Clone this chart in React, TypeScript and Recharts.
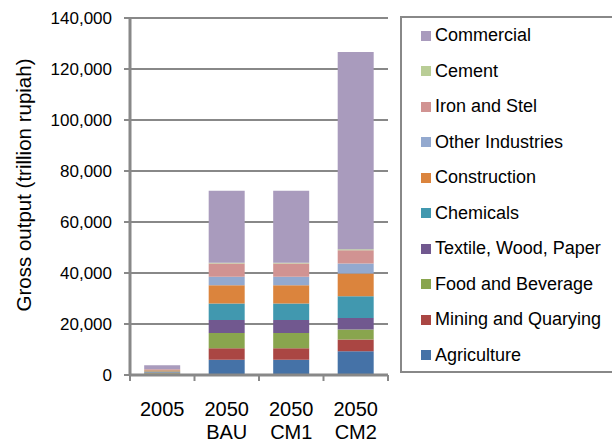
import { BarChart, Bar, XAxis, YAxis, CartesianGrid, Legend, Label } from "recharts";

const categories = ["2005", "2050 BAU", "2050 CM1", "2050 CM2"];
const categoryTop = ["2005", "2050", "2050", "2050"];
const categoryBottom = ["", "BAU", "CM1", "CM2"];

const agriculture = [350, 6000, 6000, 9300];
const mining = [200, 4500, 4500, 4600];
const food = [300, 6000, 6000, 3900];
const textile = [250, 5100, 5100, 4600];
const chemicals = [300, 6400, 6400, 8500];
const construction = [450, 7200, 7200, 8900];
const otherIndustries = [150, 3300, 3300, 3900];
const ironSteel = [250, 5200, 5200, 5200];
const cement = [30, 300, 300, 400];
const commercial = [1500, 28300, 28300, 77400];

const yTicks = [0, 20000, 40000, 60000, 80000, 100000, 120000, 140000];

const series = [
  { key: "agriculture", name: "Agriculture", color: "#4572A7", values: agriculture },
  { key: "mining", name: "Mining and Quarying", color: "#AA4643", values: mining },
  { key: "food", name: "Food and Beverage", color: "#89A54E", values: food },
  { key: "textile", name: "Textile, Wood, Paper", color: "#71588F", values: textile },
  { key: "chemicals", name: "Chemicals", color: "#4198AF", values: chemicals },
  { key: "construction", name: "Construction", color: "#DB843D", values: construction },
  { key: "other", name: "Other Industries", color: "#93A9CF", values: otherIndustries },
  { key: "iron", name: "Iron and Stel", color: "#D19392", values: ironSteel },
  { key: "cement", name: "Cement", color: "#B9CD96", values: cement },
  { key: "commercial", name: "Commercial", color: "#A99BBD", values: commercial },
];

const data = categories.map((c, i) => {
  const row: any = { cat: c, top: categoryTop[i], bottom: categoryBottom[i] };
  series.forEach((s) => (row[s.key] = s.values[i]));
  return row;
});

const FONT = "'Liberation Sans', Arial, sans-serif";
const AXIS = "#888888";
const BAND = (388 - 130) / categories.length;

function CatTick(props: any) {
  const { x, y, index } = props;
  const row = data[index];
  return (
    <g>
      <line x1={x - BAND / 2} x2={x - BAND / 2} y1={y - 6} y2={y} stroke={AXIS} strokeWidth={2} />
      {index === categories.length - 1 && (
        <line x1={x + BAND / 2} x2={x + BAND / 2} y1={y - 6} y2={y} stroke={AXIS} strokeWidth={2} />
      )}
      <text x={x} y={y + 28} textAnchor="middle" dominantBaseline="central" fontSize={20} fill="#000" fontFamily={FONT}>
        {row.top}
      </text>
      <text x={x} y={y + 51} textAnchor="middle" dominantBaseline="central" fontSize={20} fill="#000" fontFamily={FONT}>
        {row.bottom}
      </text>
    </g>
  );
}

function LegendBox() {
  const items = [...series].reverse();
  return (
    <div
      style={{
        boxSizing: "border-box",
        width: 240,
        height: 357,
        border: `2px solid ${AXIS}`,
        fontFamily: FONT,
        fontSize: 18,
        color: "#000",
      }}
    >
      {items.map((s) => (
        <div key={s.key} style={{ height: 35.5, display: "flex", alignItems: "center", paddingLeft: 19 }}>
          <span style={{ width: 10, height: 10, background: s.color, display: "inline-block", marginRight: 4 }} />
          <span>{s.name}</span>
        </div>
      ))}
    </div>
  );
}

export default function App() {
  return (
    <div style={{ width: 612, height: 444, position: "relative", background: "#fff" }}>
      <style>{"body{margin:0}"}</style>
      <BarChart
        width={612}
        height={444}
        data={data}
        margin={{ top: 18, right: 224, bottom: 0, left: 0 }}
        barCategoryGap="22%"
      >
        <CartesianGrid vertical={false} stroke={AXIS} strokeWidth={2} />
        <XAxis
          dataKey="cat"
          tick={<CatTick />}
          tickLine={false}
          tickSize={6}
          tickMargin={0}
          interval={0}
          axisLine={{ stroke: AXIS, strokeWidth: 3 }}
          height={69}
        />
        <XAxis
          xAxisId="t"
          dataKey="cat"
          orientation="top"
          height={0}
          tick={false}
          tickLine={false}
          axisLine={{ stroke: AXIS, strokeWidth: 3 }}
        />
        <YAxis
          width={130}
          domain={[0, 140000]}
          ticks={yTicks}
          interval={0}
          tickFormatter={(v: number) => v.toLocaleString("en-US")}
          tick={{ fontSize: 17, fill: "#000", fontFamily: FONT }}
          tickSize={6}
          tickMargin={12}
          tickLine={{ stroke: AXIS, strokeWidth: 2 }}
          axisLine={{ stroke: AXIS, strokeWidth: 3 }}
        >
          <Label
            content={() => (
              <text
                x={23}
                y={185}
                transform="rotate(-90 23 185)"
                textAnchor="middle"
                dominantBaseline="central"
                fontSize={20.5}
                fill="#000"
                fontFamily={FONT}
              >
                Gross output (trillion rupiah)
              </text>
            )}
          />
        </YAxis>
        <YAxis
          yAxisId="r"
          orientation="right"
          width={0}
          domain={[0, 140000]}
          tick={false}
          tickLine={false}
          axisLine={{ stroke: AXIS, strokeWidth: 3 }}
        />
        {series.map((s) => (
          <Bar key={s.key} dataKey={s.key} name={s.name} stackId="a" fill={s.color} isAnimationActive={false} />
        ))}
        <Legend
          layout="vertical"
          align="center"
          verticalAlign="middle"
          content={<LegendBox />}
          wrapperStyle={{ left: 400, top: 16, width: 240, height: 357 }}
        />
      </BarChart>
    </div>
  );
}
